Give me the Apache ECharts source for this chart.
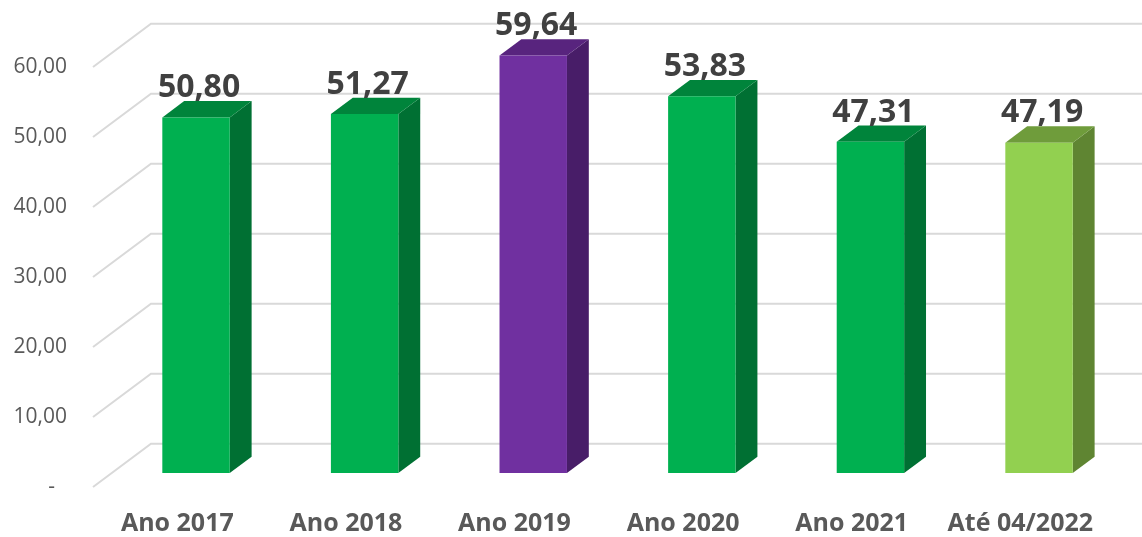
<!DOCTYPE html>
<html>
<head>
<meta charset="utf-8">
<script src="https://cdn.jsdelivr.net/npm/echarts@6/dist/echarts.min.js"></script>
<style>
html,body{margin:0;padding:0;background:#fff;}
#chart{width:1142px;height:537px;}
</style>
</head>
<body>
<div id="chart"></div>
<script>
// ---- data ----
const categories = ['Ano 2017', 'Ano 2018', 'Ano 2019', 'Ano 2020', 'Ano 2021', 'Até 04/2022'];
const values = [50.80, 51.27, 59.64, 53.83, 47.31, 47.19];
const yTicks = [0, 10, 20, 30, 40, 50, 60];

// ---- styles ----
const palette = {
  green:  { front: '#00B050', side: '#007033', top: '#00843B' },
  purple: { front: '#7030A0', side: '#481D68', top: '#58247E' },
  lime:   { front: '#92D050', side: '#5F8532', top: '#6F9C3B' }
};
const barStyleKeys = ['green', 'green', 'purple', 'green', 'green', 'lime'];

const DEPTH_X = 58, DEPTH_Y = 43.3;     // full floor depth (perspective offset)
const BAR_FRONT = 0.323, BAR_BACK = 0.70;
const BAR_WIDTH_RATIO = 0.4;

function fmt(v) { return v.toFixed(2).replace('.', ','); }

const chart = echarts.init(document.getElementById('chart'));

function renderGrid(params, api) {
  const v = api.value(1);
  const y = api.coord([0, v])[1];
  const cs = params.coordSys;
  const x0 = cs.x;
  return {
    type: 'polyline',
    silent: true,
    shape: { points: [[x0, y], [x0 + DEPTH_X, y - DEPTH_Y], [cs.x + cs.width + DEPTH_X + 60, y - DEPTH_Y]] },
    style: { stroke: '#D9D9D9', lineWidth: 2, fill: null }
  };
}

function renderBar(params, api) {
  const i = api.value(0), v = api.value(1);
  const top = api.coord([i, v]);
  const base = api.coord([i, 0]);
  const band = api.size([1, 0])[0];
  const w = band * BAR_WIDTH_RATIO;
  const fx = DEPTH_X * BAR_FRONT, fy = DEPTH_Y * BAR_FRONT;
  const dx = DEPTH_X * (BAR_BACK - BAR_FRONT), dy = DEPTH_Y * (BAR_BACK - BAR_FRONT);
  const xl = top[0] + fx - w / 2, xr = xl + w;
  const yt = top[1] - fy, yb = base[1] - fy;
  const c = palette[barStyleKeys[params.dataIndex]];
  return {
    type: 'group',
    children: [
      { type: 'polygon', shape: { points: [[xr, yt], [xr + dx, yt - dy], [xr + dx, yb - dy], [xr, yb]] },
        style: { fill: c.side } },
      { type: 'polygon', shape: { points: [[xl, yt], [xl + dx, yt - dy], [xr + dx, yt - dy], [xr, yt]] },
        style: { fill: c.top } },
      { type: 'rect', shape: { x: xl, y: yt, width: w, height: yb - yt },
        style: { fill: c.front } },
      { type: 'text',
        style: {
          text: fmt(v), x: xl + w / 2 + 3, y: yt - dy - 13,
          textAlign: 'center', textVerticalAlign: 'middle',
          fill: '#404040', font: 'bold 32px "Open Sans", sans-serif'
        } }
    ]
  };
}

chart.setOption({
  animation: false,
  grid: { left: 93, right: 37.4, top: 67, bottom: 50 },
  xAxis: {
    type: 'category',
    data: categories,
    axisLine: { show: false },
    axisTick: { show: false },
    axisLabel: { interval: 0, color: '#595959', fontSize: 25, fontWeight: 'bold', fontFamily: 'Open Sans', margin: 24 },
    splitLine: { show: false }
  },
  yAxis: {
    type: 'value',
    min: 0, max: 60, interval: 10,
    axisLine: { show: false },
    axisTick: { show: false },
    splitLine: { show: false },
    axisLabel: {
      color: '#595959', fontSize: 21, fontFamily: 'Open Sans', margin: 26,
      formatter: function (v) { return v === 0 ? '{d|-}' : fmt(v); },
      rich: { d: { color: '#595959', fontSize: 21, fontFamily: 'Open Sans', padding: [0, 12, 0, 0] } }
    }
  },
  series: [
    {
      type: 'custom',
      renderItem: renderGrid,
      data: yTicks.map(t => [0, t]),
      clip: false, silent: true, z: 1
    },
    {
      type: 'custom',
      renderItem: renderBar,
      data: values.map((v, i) => [i, v]),
      clip: false, z: 2
    }
  ]
});
</script>
</body>
</html>
